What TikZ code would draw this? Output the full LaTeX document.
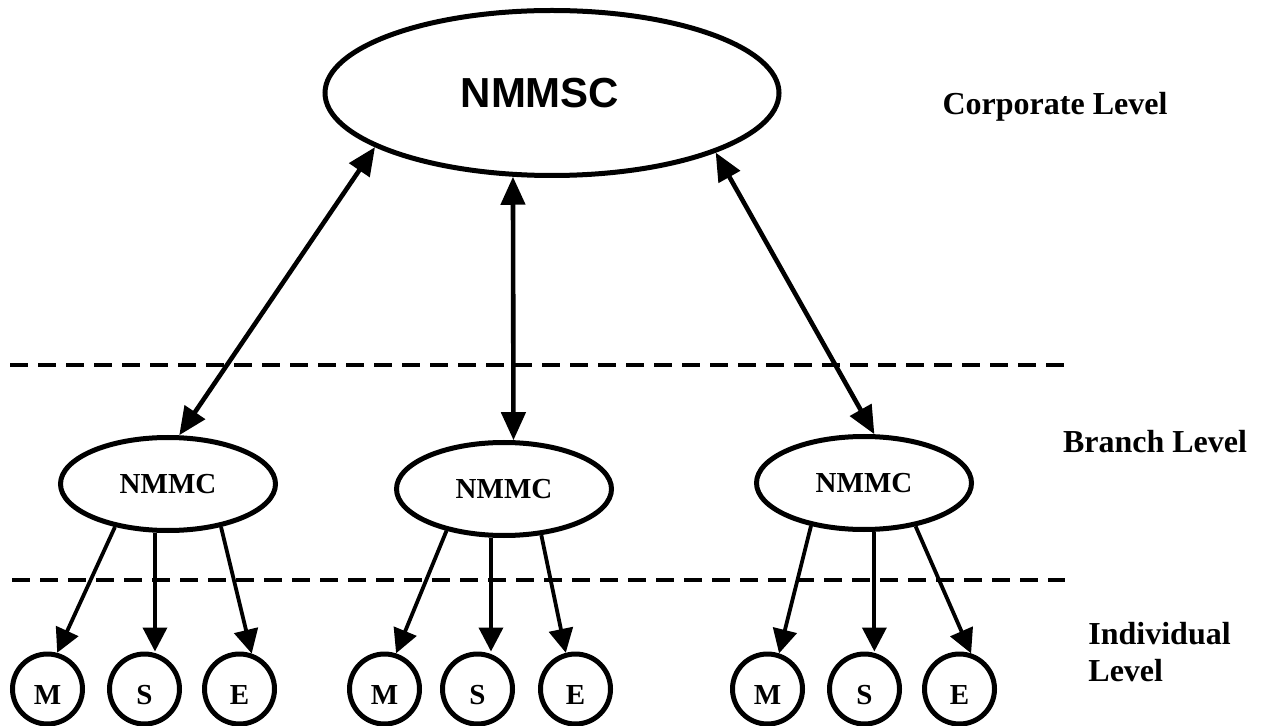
\documentclass[tikz,border=0pt]{standalone}
\usepackage{fontspec}
\setmainfont{Liberation Serif}
\newfontfamily\headfont{Liberation Sans}
\usetikzlibrary{shapes.geometric,arrows.meta}

\begin{document}
\begin{tikzpicture}[x=0.5pt,y=-0.5pt,
	big/.style={ellipse,draw,line width=2.5pt,minimum width=227pt,minimum height=82.5pt,inner sep=0pt,font=\headfont\fontsize{21}{25}\selectfont\bfseries},
	unit/.style={ellipse,draw,line width=2.5pt,minimum width=107.5pt,minimum height=46.5pt,inner sep=0pt,font=\fontsize{14.5}{17}\selectfont\bfseries},
	person/.style={circle,draw,line width=2.5pt,minimum size=35pt,inner sep=0pt,text height=15.5pt,text depth=0pt,font=\fontsize{14.5}{17}\selectfont\bfseries},
	link/.style={line width=2.3pt,{Triangle[length=14pt,width=12pt]}-{Triangle[length=14pt,width=12pt]}},
	sub/.style={line width=1.9pt,-{Triangle[length=12pt,width=12pt]}},
	level/.style={font=\fontsize{16}{18.5}\selectfont\bfseries,inner sep=0pt},
	cut/.style={line width=2pt,dash pattern=on 9pt off 5pt}]
	\useasboundingbox (0,0) rectangle (1267,726);

	\node[big] (top) at (552,93) {NMMSC\kern12pt};
	\node[unit] (b1) at (168,484) {NMMC};
	\node[unit] (b2) at (504,489) {NMMC};
	\node[unit] (b3) at (864,483) {NMMC};

	\foreach \g/\xm/\xs/\xe in {1/47.5/144.5/239.5, 2/384.5/477.5/575.5, 3/767.5/864.5/959.5}{
		\node[person] (m\g) at (\xm,689) {M};
		\node[person] (s\g) at (\xs,689) {S};
		\node[person] (e\g) at (\xe,689) {E};
	}

	\draw[cut] (10,365) -- (1065,365);
	\draw[cut] (12,580) -- (1065,580);

	\draw[link] (top.197) -- (b1.77);
	\draw[link] (top.245) -- (b2.79);
	\draw[link] (top.340) -- (b3.78);

	\foreach \g/\am/\as/\ae/\em/\ee in {1/219/255/321/75/71, 2/216/255/309/72/105, 3/219/282/320/72/72}{
		\draw[sub] (b\g.\am) -- (m\g.\em);
		\draw[sub] (b\g.\as) -- (b\g.\as |- s\g.north);
		\draw[sub] (b\g.\ae) -- (e\g.\ee);
	}

	\node[level,anchor=base] (corp) at (1055,115) {Corporate Level};
	\node[level,anchor=base] (branch) at (1155,452) {Branch Level};
	\node[level,align=left,anchor=north west] (indiv) at (1088,622) {Individual\\Level};
\end{tikzpicture}
\end{document}
